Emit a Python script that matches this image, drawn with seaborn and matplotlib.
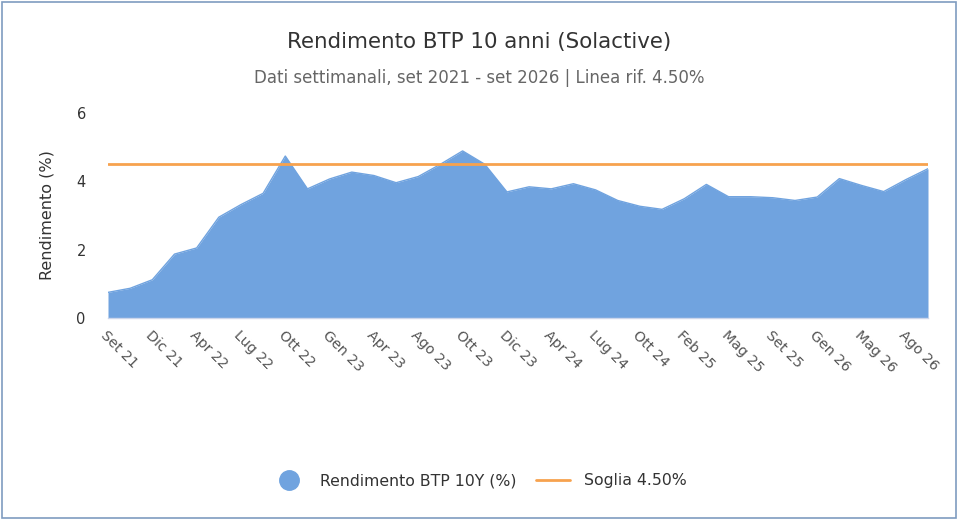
import numpy as np
import pandas as pd
import seaborn as sns
import matplotlib.pyplot as plt
from matplotlib.lines import Line2D
from matplotlib.patches import Rectangle

# Weekly sample of the 10Y BTP yield (%)
yields = [0.75, 0.87, 1.12, 1.87, 2.05, 2.95, 3.32, 3.65, 4.74, 3.78,
          4.07, 4.27, 4.17, 3.96, 4.14, 4.50, 4.89, 4.50, 3.69, 3.84,
          3.78, 3.93, 3.75, 3.44, 3.27, 3.18, 3.49, 3.91, 3.55, 3.55,
          3.52, 3.44, 3.54, 4.08, 3.88, 3.70, 4.05, 4.37]
# labels shown on every second point
tick_labels = ["Set 21", "Dic 21", "Apr 22", "Lug 22", "Ott 22", "Gen 23",
               "Apr 23", "Ago 23", "Ott 23", "Dic 23", "Apr 24", "Lug 24",
               "Ott 24", "Feb 25", "Mag 25", "Set 25", "Gen 26", "Mag 26",
               "Ago 26"]
threshold = 4.50

df = pd.DataFrame({"idx": np.arange(len(yields)), "yield": yields})
df["soglia"] = threshold

AREA = "#70a3df"
ORANGE = "#f7a24e"

sns.set_theme(style="white")
plt.rcParams["font.family"] = ["DejaVu Sans"]

fig = plt.figure(figsize=(9.59, 5.2), dpi=100)
ax = fig.add_axes([108 / 959, 1 - 318 / 520, 820 / 959, 205 / 520])

ax.fill_between(df["idx"], df["yield"], 0, color=AREA, linewidth=0, zorder=2)
sns.lineplot(data=df, x="idx", y="yield", ax=ax, color=AREA, linewidth=1, zorder=3)
sns.lineplot(data=df, x="idx", y="soglia", ax=ax, color=ORANGE, linewidth=2, zorder=4)

ax.set_xlim(0, len(yields) - 1)
ax.set_ylim(0, 6)
ax.set_yticks([0, 2, 4, 6])
ax.tick_params(axis="y", labelsize=10.5, labelcolor="#333333", length=0, pad=16)

ax.set_xticks(df["idx"][::2])
ax.set_xticklabels(tick_labels, rotation=-45, ha="left", rotation_mode="anchor",
                   fontsize=10.3, color="#555555")
ax.tick_params(axis="x", length=0, pad=7)

ax.set_xlabel("")
ax.set_ylabel("Rendimento (%)", fontsize=11.5, color="#333333", labelpad=16)

for side in ["top", "right", "left"]:
    ax.spines[side].set_visible(False)
ax.spines["bottom"].set_color("#ccd6eb")
ax.spines["bottom"].set_linewidth(1)

fig.text(0.5, 1 - 42 / 520, "Rendimento BTP 10 anni (Solactive)",
         ha="center", va="center", fontsize=15.4, color="#333333")
fig.text(0.5, 1 - 78 / 520, "Dati settimanali, set 2021 - set 2026 | Linea rif. 4.50%",
         ha="center", va="center", fontsize=12, color="#666666")

handles = [
    Line2D([], [], marker="o", linestyle="none", markersize=14,
           markerfacecolor=AREA, markeredgecolor=AREA),
    Line2D([], [], color=ORANGE, linewidth=2),
]
fig.legend(handles, ["Rendimento BTP 10Y (%)", "Soglia 4.50%"],
           loc="center", bbox_to_anchor=(0.5, 1 - 481 / 520), ncol=2,
           frameon=False, fontsize=11.3, handlelength=2.2, handletextpad=0.9,
           columnspacing=1.2, labelcolor="#333333")

# outer frame
fig.patches.append(Rectangle((0.002, 0.004), 0.995, 0.992, transform=fig.transFigure,
                             fill=False, edgecolor="#7f9cc0", linewidth=1.2))

fig.savefig("out.png", dpi=100)
